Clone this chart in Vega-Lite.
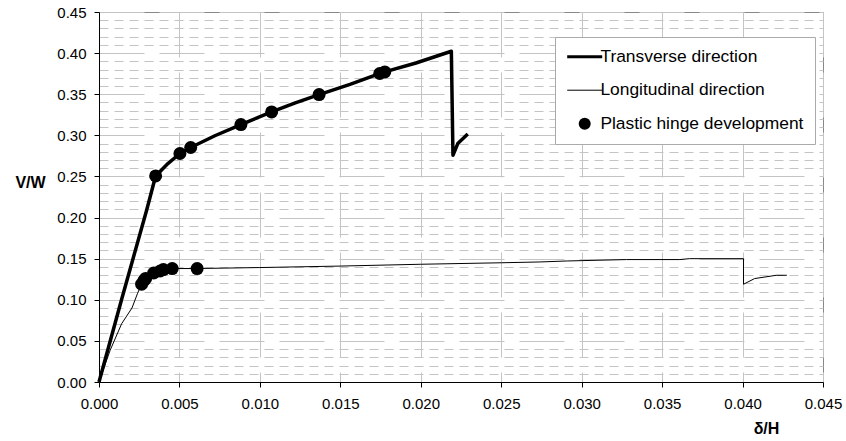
{
  "$schema": "https://vega.github.io/schema/vega-lite/v6.json",
  "width": 724,
  "height": 370,
  "autosize": {"type": "none"},
  "padding": {"left": 99, "top": 12, "right": 23, "bottom": 59},
  "background": "white",
  "config": {
    "font": "Liberation Sans",
    "view": {"stroke": "#888888", "strokeWidth": 1},
    "axis": {
      "labelFont": "Liberation Sans",
      "labelFontSize": 15,
      "labelColor": "black",
      "labelFlush": false,
      "titleFont": "Liberation Sans",
      "titleFontSize": 16,
      "titleFontWeight": "bold",
      "titleColor": "black",
      "domainColor": "black",
      "domainWidth": 1,
      "tickColor": "black",
      "tickSize": 5,
      "gridColor": "#c4c4c4",
      "gridWidth": 1
    }
  },
  "datasets": {
    "curves": [
      {"series": "Transverse direction", "i": 0, "x": 0, "y": 0},
      {"series": "Transverse direction", "i": 1, "x": 0.0014, "y": 0.1},
      {"series": "Transverse direction", "i": 2, "x": 0.00296, "y": 0.209},
      {"series": "Transverse direction", "i": 3, "x": 0.00352, "y": 0.2506},
      {"series": "Transverse direction", "i": 4, "x": 0.0043, "y": 0.266},
      {"series": "Transverse direction", "i": 5, "x": 0.00503, "y": 0.2779},
      {"series": "Transverse direction", "i": 6, "x": 0.0057, "y": 0.2852},
      {"series": "Transverse direction", "i": 7, "x": 0.0072, "y": 0.2995},
      {"series": "Transverse direction", "i": 8, "x": 0.00882, "y": 0.3131},
      {"series": "Transverse direction", "i": 9, "x": 0.01073, "y": 0.3285},
      {"series": "Transverse direction", "i": 10, "x": 0.0122, "y": 0.3395},
      {"series": "Transverse direction", "i": 11, "x": 0.01368, "y": 0.3496},
      {"series": "Transverse direction", "i": 12, "x": 0.0156, "y": 0.362},
      {"series": "Transverse direction", "i": 13, "x": 0.01756, "y": 0.376},
      {"series": "Transverse direction", "i": 14, "x": 0.01776, "y": 0.3771},
      {"series": "Transverse direction", "i": 15, "x": 0.0197, "y": 0.388},
      {"series": "Transverse direction", "i": 16, "x": 0.0219, "y": 0.4023},
      {"series": "Transverse direction", "i": 17, "x": 0.022, "y": 0.2758},
      {"series": "Transverse direction", "i": 18, "x": 0.0223, "y": 0.29},
      {"series": "Transverse direction", "i": 19, "x": 0.02292, "y": 0.3015},
      {"series": "Longitudinal direction", "i": 0, "x": 0, "y": 0},
      {"series": "Longitudinal direction", "i": 1, "x": 0.00068, "y": 0.038},
      {"series": "Longitudinal direction", "i": 2, "x": 0.00141, "y": 0.071},
      {"series": "Longitudinal direction", "i": 3, "x": 0.00205, "y": 0.09},
      {"series": "Longitudinal direction", "i": 4, "x": 0.0024, "y": 0.108},
      {"series": "Longitudinal direction", "i": 5, "x": 0.00265, "y": 0.119},
      {"series": "Longitudinal direction", "i": 6, "x": 0.0028, "y": 0.1235},
      {"series": "Longitudinal direction", "i": 7, "x": 0.0029, "y": 0.126},
      {"series": "Longitudinal direction", "i": 8, "x": 0.0034, "y": 0.1326},
      {"series": "Longitudinal direction", "i": 9, "x": 0.0038, "y": 0.135},
      {"series": "Longitudinal direction", "i": 10, "x": 0.004, "y": 0.1367},
      {"series": "Longitudinal direction", "i": 11, "x": 0.00455, "y": 0.138},
      {"series": "Longitudinal direction", "i": 12, "x": 0.0061, "y": 0.138},
      {"series": "Longitudinal direction", "i": 13, "x": 0.01, "y": 0.1392},
      {"series": "Longitudinal direction", "i": 14, "x": 0.015, "y": 0.141},
      {"series": "Longitudinal direction", "i": 15, "x": 0.02, "y": 0.1432},
      {"series": "Longitudinal direction", "i": 16, "x": 0.025, "y": 0.145},
      {"series": "Longitudinal direction", "i": 17, "x": 0.0274, "y": 0.146},
      {"series": "Longitudinal direction", "i": 18, "x": 0.0291, "y": 0.1472},
      {"series": "Longitudinal direction", "i": 19, "x": 0.0328, "y": 0.1489},
      {"series": "Longitudinal direction", "i": 20, "x": 0.0361, "y": 0.1489},
      {"series": "Longitudinal direction", "i": 21, "x": 0.0367, "y": 0.15},
      {"series": "Longitudinal direction", "i": 22, "x": 0.04006, "y": 0.15},
      {"series": "Longitudinal direction", "i": 23, "x": 0.04006, "y": 0.1189},
      {"series": "Longitudinal direction", "i": 24, "x": 0.04075, "y": 0.1258},
      {"series": "Longitudinal direction", "i": 25, "x": 0.0421, "y": 0.1298},
      {"series": "Longitudinal direction", "i": 26, "x": 0.04275, "y": 0.1298}
    ],
    "hinges": [
      {"series": "Plastic hinge development", "x": 0.00352, "y": 0.2506},
      {"series": "Plastic hinge development", "x": 0.00503, "y": 0.2779},
      {"series": "Plastic hinge development", "x": 0.0057, "y": 0.2852},
      {"series": "Plastic hinge development", "x": 0.00882, "y": 0.3131},
      {"series": "Plastic hinge development", "x": 0.01073, "y": 0.3285},
      {"series": "Plastic hinge development", "x": 0.01368, "y": 0.3496},
      {"series": "Plastic hinge development", "x": 0.01745, "y": 0.3752},
      {"series": "Plastic hinge development", "x": 0.01776, "y": 0.3771},
      {"series": "Plastic hinge development", "x": 0.00265, "y": 0.119},
      {"series": "Plastic hinge development", "x": 0.0028, "y": 0.1235},
      {"series": "Plastic hinge development", "x": 0.0029, "y": 0.126},
      {"series": "Plastic hinge development", "x": 0.0034, "y": 0.1326},
      {"series": "Plastic hinge development", "x": 0.0038, "y": 0.135},
      {"series": "Plastic hinge development", "x": 0.004, "y": 0.1367},
      {"series": "Plastic hinge development", "x": 0.00455, "y": 0.138},
      {"series": "Plastic hinge development", "x": 0.0061, "y": 0.138}
    ]
  },
  "encoding": {
    "x": {
      "field": "x",
      "type": "quantitative",
      "scale": {"domain": [0, 0.045], "nice": false},
      "axis": {
        "title": "δ/H",
        "values": [0, 0.005, 0.01, 0.015, 0.02, 0.025, 0.03, 0.035, 0.04, 0.045],
        "format": ".3f",
        "labelPadding": 9,
        "labelOverlap": false,
        "labelFlush": false,
        "gridDash": [45, 15],
        "titleX": 667,
        "titleY": 46,
        "titleAlign": "center",
        "titleBaseline": "middle"
      }
    },
    "y": {
      "field": "y",
      "type": "quantitative",
      "scale": {"domain": [0, 0.45], "nice": false},
      "axis": {
        "title": "V/W",
        "values": [0, 0.01, 0.02, 0.03, 0.04, 0.05, 0.06, 0.07, 0.08, 0.09, 0.1, 0.11, 0.12, 0.13, 0.14, 0.15, 0.16, 0.17, 0.18, 0.19, 0.2, 0.21, 0.22, 0.23, 0.24, 0.25, 0.26, 0.27, 0.28, 0.29, 0.3, 0.31, 0.32, 0.33, 0.34, 0.35, 0.36, 0.37, 0.38, 0.39, 0.4, 0.41, 0.42, 0.43, 0.44, 0.45],
        "labelExpr": "round(datum.value*100) % 5 === 0 ? format(datum.value, '.2f') : ''",
        "labelOverlap": false,
        "labelFlush": false,
        "labelPadding": 8,
        "tickOpacity": {"condition": {"test": "round(datum.value*100) % 5 === 0", "value": 1}, "value": 0},
        "gridDash": {"condition": {"test": "round(datum.value*100) % 5 === 0", "value": [45, 15]}, "value": [9, 6]},
        "titleAngle": 0,
        "titleX": -69,
        "titleY": 170,
        "titleAlign": "center",
        "titleBaseline": "middle"
      }
    }
  },
  "layer": [
    {
      "data": {"name": "curves"},
      "mark": {"type": "line", "strokeJoin": "round", "strokeCap": "butt"},
      "encoding": {
        "order": {"field": "i", "type": "quantitative"},
        "color": {
          "field": "series",
          "type": "nominal",
          "scale": {
            "domain": ["Transverse direction", "Longitudinal direction", "Plastic hinge development"],
            "range": ["black", "black", "black"]
          },
          "legend": {
            "title": null,
            "orient": "none",
            "legendX": 456,
            "legendY": 25,
            "padding": 11,
            "fillColor": "white",
            "strokeColor": "#aaaaaa",
            "symbolSize": 1225,
            "symbolOffset": 10,
            "labelFontSize": 17.4,
            "labelFont": "Liberation Sans",
            "labelColor": "black",
            "labelLimit": 0,
            "labelOffset": 7,
            "rowPadding": 14.5,
            "encode": {
              "symbols": {
                "update": {
                  "shape": {"signal": "datum.value === 'Plastic hinge development' ? 'circle' : 'stroke'"},
                  "size": {"signal": "datum.value === 'Plastic hinge development' ? 144 : 1225"},
                  "strokeWidth": {"signal": "datum.value === 'Transverse direction' ? 3 : (datum.value === 'Longitudinal direction' ? 1 : 0)"},
                  "fill": {"signal": "datum.value === 'Plastic hinge development' ? 'black' : 'transparent'"},
                  "stroke": {"value": "black"},
                  "opacity": {"value": 1}
                }
              }
            }
          }
        },
        "strokeWidth": {
          "field": "series",
          "type": "nominal",
          "scale": {"domain": ["Transverse direction", "Longitudinal direction"], "range": [3.5, 1]},
          "legend": null
        }
      }
    },
    {
      "data": {"name": "hinges"},
      "mark": {"type": "point", "filled": true, "size": 169, "opacity": 1},
      "encoding": {
        "color": {"field": "series", "type": "nominal"}
      }
    }
  ]
}
